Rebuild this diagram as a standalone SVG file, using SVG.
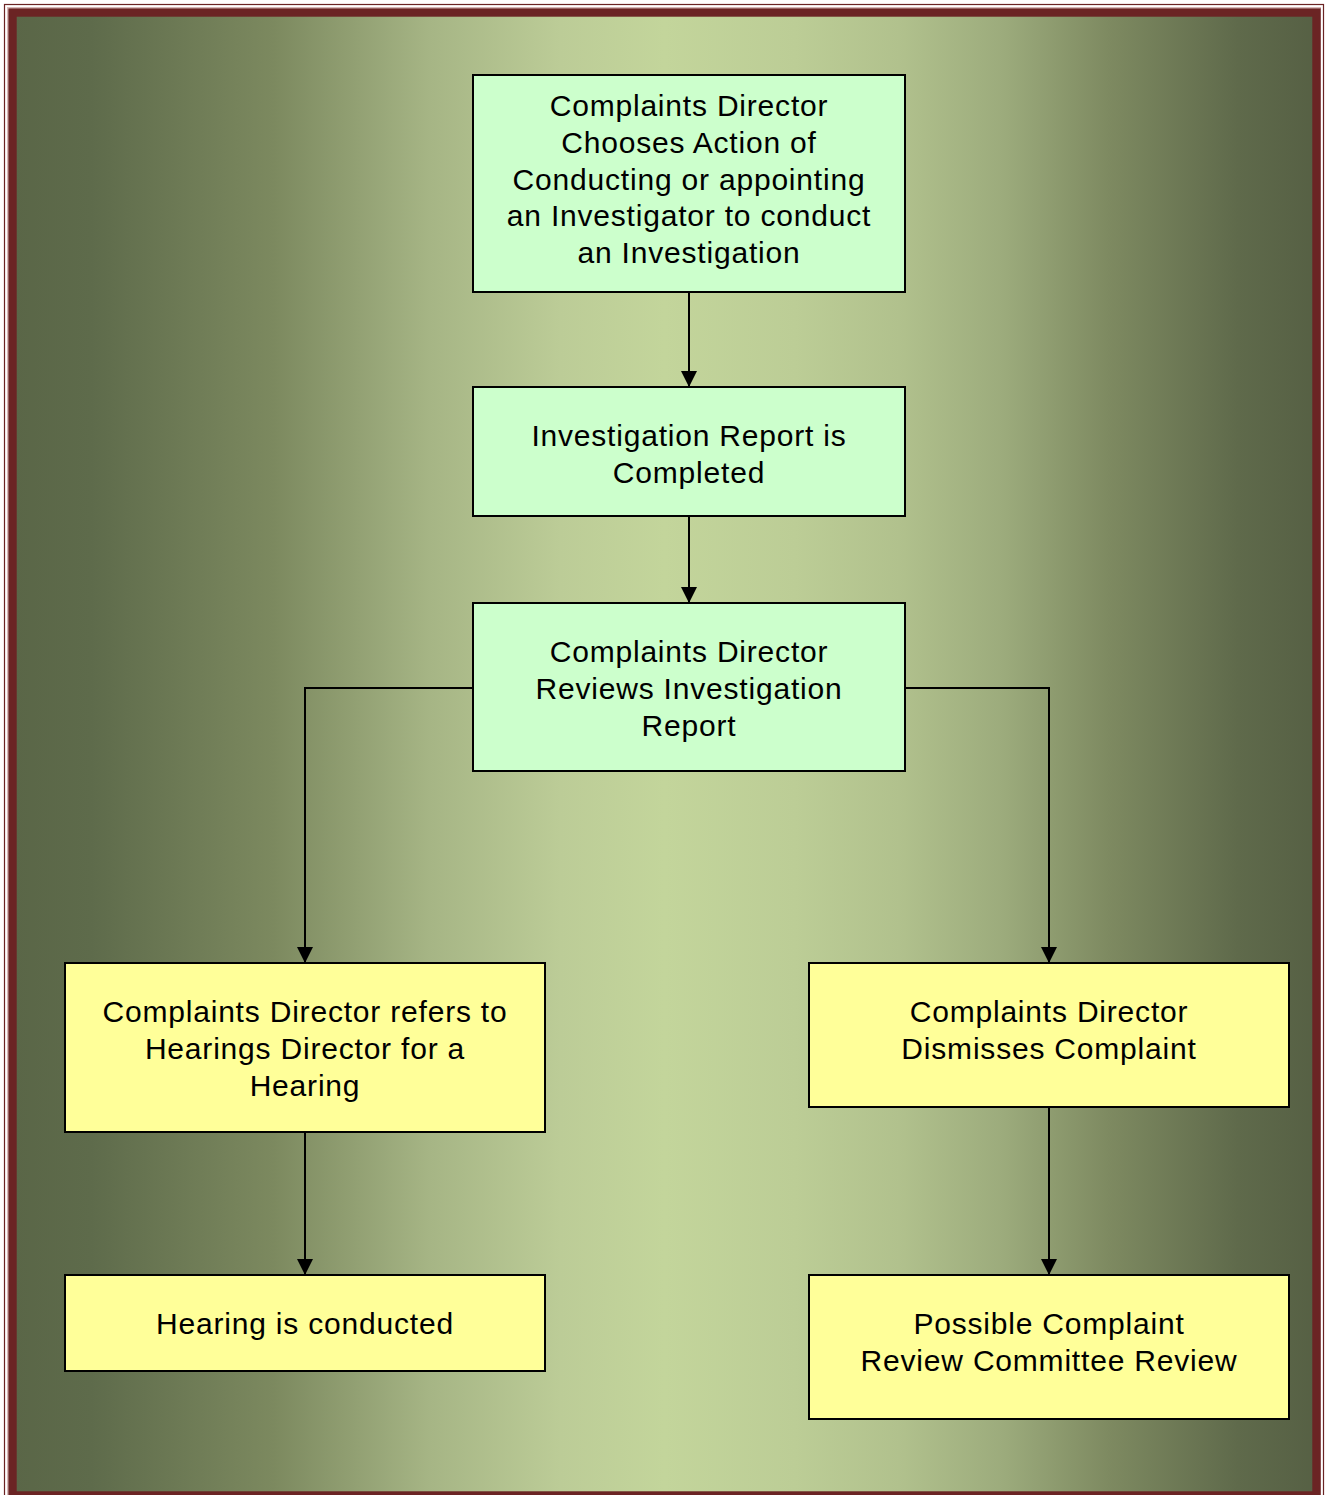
<svg xmlns="http://www.w3.org/2000/svg" width="1326" height="1495" viewBox="0 0 1326 1495">
<defs>
<linearGradient id="bg" x1="0" y1="0" x2="1" y2="0">
<stop offset="0" stop-color="#5a6647"/>
<stop offset="0.06" stop-color="#5e6b4b"/>
<stop offset="0.2" stop-color="#7c895f"/>
<stop offset="0.32" stop-color="#a6b585"/>
<stop offset="0.42" stop-color="#bccc97"/>
<stop offset="0.5" stop-color="#c3d59b"/>
<stop offset="0.6" stop-color="#bccd96"/>
<stop offset="0.68" stop-color="#b1c18d"/>
<stop offset="0.76" stop-color="#9cab7c"/>
<stop offset="0.84" stop-color="#7e8a61"/>
<stop offset="0.94" stop-color="#5f6a4b"/>
<stop offset="1" stop-color="#566044"/>
</linearGradient>
<marker id="arr" markerWidth="16" markerHeight="16" viewBox="0 0 16 16" refX="16" refY="8" orient="auto" markerUnits="userSpaceOnUse">
<path d="M0,0 L16,8 L0,16 Z" fill="#000"/>
</marker>
</defs>
<style>
.box{stroke:#000;stroke-width:2}
.g{fill:#ccffcc}
.y{fill:#ffff99}
.t{font-family:"Liberation Sans",Arial,sans-serif;font-size:30px;letter-spacing:0.8px;fill:#000;text-anchor:middle}
.c{fill:none;stroke:#000;stroke-width:2}
</style>
<rect x="0" y="0" width="1326" height="1495" fill="#ffffff"/>
<rect x="4.5" y="4.5" width="1319" height="1500" fill="none" stroke="#6b2424" stroke-width="1.2"/>
<rect x="7.5" y="7.5" width="1313" height="1500" fill="none" stroke="#d9b8b8" stroke-width="1"/>
<rect x="12.5" y="12.5" width="1304" height="1483" fill="url(#bg)" stroke="#6b2424" stroke-width="8.4"/>
<g id="connectors">
<line class="c" x1="689" y1="292" x2="689" y2="387" marker-end="url(#arr)"/>
<line class="c" x1="689" y1="516" x2="689" y2="603" marker-end="url(#arr)"/>
<polyline class="c" points="473,688 305,688 305,963" marker-end="url(#arr)"/>
<polyline class="c" points="905,688 1049,688 1049,963" marker-end="url(#arr)"/>
<line class="c" x1="305" y1="1132" x2="305" y2="1275" marker-end="url(#arr)"/>
<line class="c" x1="1049" y1="1107" x2="1049" y2="1275" marker-end="url(#arr)"/>
</g>
<g id="n1">
<rect class="box g" x="473" y="75" width="432" height="217"/>
<text class="t" x="689" y="116">Complaints Director</text>
<text class="t" x="689" y="153">Chooses Action of</text>
<text class="t" x="689" y="190">Conducting or appointing</text>
<text class="t" x="689" y="226">an Investigator to conduct</text>
<text class="t" x="689" y="263">an Investigation</text>
</g>
<g id="n2">
<rect class="box g" x="473" y="387" width="432" height="129"/>
<text class="t" x="689" y="446">Investigation Report is</text>
<text class="t" x="689" y="483">Completed</text>
</g>
<g id="n3">
<rect class="box g" x="473" y="603" width="432" height="168"/>
<text class="t" x="689" y="662">Complaints Director</text>
<text class="t" x="689" y="699">Reviews Investigation</text>
<text class="t" x="689" y="736">Report</text>
</g>
<g id="n4">
<rect class="box y" x="65" y="963" width="480" height="169"/>
<text class="t" x="305" y="1022">Complaints Director refers to</text>
<text class="t" x="305" y="1059">Hearings Director for a</text>
<text class="t" x="305" y="1096">Hearing</text>
</g>
<g id="n5">
<rect class="box y" x="809" y="963" width="480" height="144"/>
<text class="t" x="1049" y="1022">Complaints Director</text>
<text class="t" x="1049" y="1059">Dismisses Complaint</text>
</g>
<g id="n6">
<rect class="box y" x="65" y="1275" width="480" height="96"/>
<text class="t" x="305" y="1334">Hearing is conducted</text>
</g>
<g id="n7">
<rect class="box y" x="809" y="1275" width="480" height="144"/>
<text class="t" x="1049" y="1334">Possible Complaint</text>
<text class="t" x="1049" y="1371">Review Committee Review</text>
</g>
</svg>
